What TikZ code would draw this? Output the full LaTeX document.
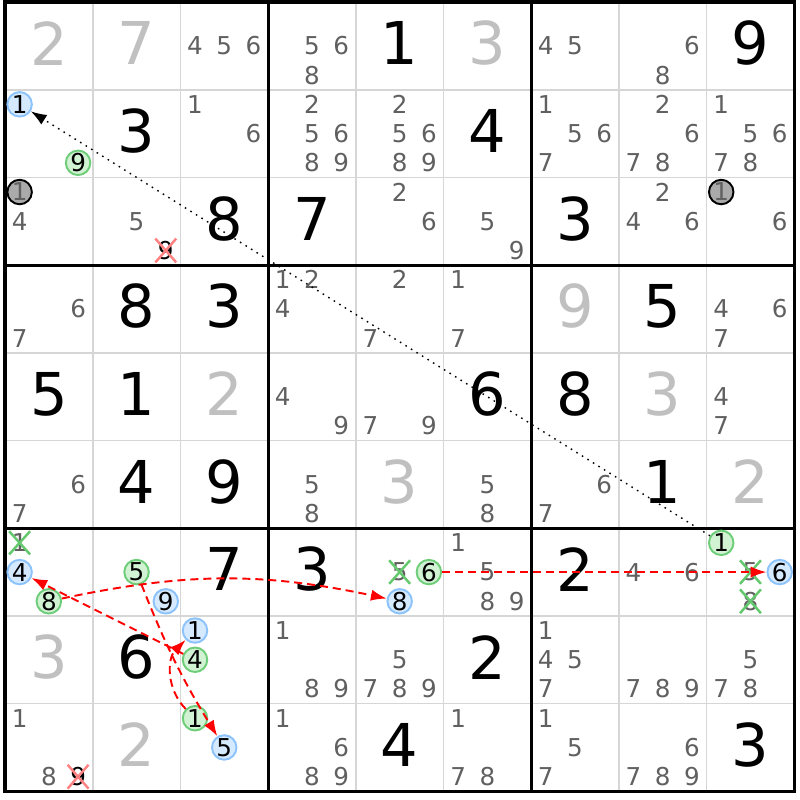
\documentclass[tikz,border=0pt]{standalone}
\usepackage{fontspec}
\setmainfont{DejaVu Sans}
\usetikzlibrary{arrows.meta,shapes.misc}

\definecolor{candgray}{RGB}{96,96,96}
\definecolor{givengray}{RGB}{192,192,192}
\definecolor{gridgray}{RGB}{214,214,214}
\definecolor{onblue}{RGB}{214,234,255}
\definecolor{onblueline}{RGB}{140,195,250}
\definecolor{offgreen}{RGB}{210,242,212}
\definecolor{offgreenline}{RGB}{110,205,120}
\definecolor{basegray}{RGB}{170,170,170}
\definecolor{crossred}{RGB}{255,130,130}
\definecolor{crossgreen}{RGB}{100,200,110}

\tikzset{
  placed/.style={font=\fontsize{16.8}{18}\selectfont,text=black,inner sep=0pt},
  given/.style={placed,text=givengray},
  cand/.style={font=\fontsize{7}{8}\selectfont,text=candgray,inner sep=0pt},
  candon/.style={cand,text=black,circle,draw=onblueline,fill=onblue,line width=0.55pt,minimum size=0.245cm},
  candoff/.style={candon,draw=offgreenline,fill=offgreen},
  candbase/.style={candon,text=candgray,draw=black,fill=basegray},
  candgone/.style={cand,cross out,draw=crossgreen,line width=0.7pt,inner sep=0.4pt},
  candkill/.style={candgone,text=black,draw=crossred},
  thinline/.style={draw=gridgray,line width=0.5pt},
  boxline/.style={draw=black,line width=0.9pt},
  chainarrow/.style={draw=red,line width=0.55pt,dash pattern=on 2.3pt off 1.4pt,-{Latex[length=4.5pt,width=3.2pt]}},
  linkarrow/.style={draw=black,line width=0.4pt,dash pattern=on 0.45pt off 1.4pt,-{Latex[length=4.5pt,width=3.2pt]}}
}

\begin{document}
\begin{tikzpicture}[x=0.877cm,y=0.877cm]

\useasboundingbox (-0.057,-0.099) rectangle (9.065,9.023);

% grid
\foreach \i in {1,2,4,5,7,8} {
  \path[thinline] (\i,0) -- (\i,9);
  \path[thinline] (0,\i) -- (9,\i);
}
\foreach \i in {3,6} {
  \path[boxline] (\i,0) -- (\i,9);
  \path[boxline] (0,\i) -- (9,\i);
}
\path[boxline] (0,0) rectangle (9,9);

% solved cells
\foreach \row/\col/\dig in {1/5/1,1/9/9,2/2/3,2/6/4,3/3/8,3/4/7,3/7/3,4/2/8,4/3/3,4/8/5,
  5/1/5,5/2/1,5/6/6,5/7/8,6/2/4,6/3/9,6/8/1,7/3/7,7/4/3,7/7/2,8/2/6,8/6/2,9/5/4,9/9/3}
  \node[placed] (r\row c\col) at ({\col-0.5},{9.53-\row}) {\dig};

% givens
\foreach \row/\col/\dig in {1/1/2,1/2/7,1/6/3,4/7/9,5/3/2,5/8/3,6/5/3,6/9/2,8/1/3,9/2/2}
  \node[given] (r\row c\col) at ({\col-0.5},{9.53-\row}) {\dig};

% candidates
\foreach \row/\col/\dig in {1/3/4,1/3/5,1/3/6,1/4/5,1/4/6,1/4/8,1/7/4,1/7/5,1/8/6,1/8/8,
  2/3/1,2/3/6,2/4/2,2/4/5,2/4/6,2/4/8,2/4/9,2/5/2,2/5/5,2/5/6,2/5/8,2/5/9,
  2/7/1,2/7/5,2/7/6,2/7/7,2/8/2,2/8/6,2/8/7,2/8/8,2/9/1,2/9/5,2/9/6,2/9/7,2/9/8,
  3/1/4,3/2/5,3/5/2,3/5/6,3/6/5,3/6/9,3/8/2,3/8/4,3/8/6,3/9/6,
  4/1/6,4/1/7,4/4/1,4/4/2,4/4/4,4/5/2,4/5/7,4/6/1,4/6/7,4/9/4,4/9/6,4/9/7,
  5/4/4,5/4/9,5/5/7,5/5/9,5/9/4,5/9/7,
  6/1/6,6/1/7,6/4/5,6/4/8,6/6/5,6/6/8,6/7/6,6/7/7,
  7/6/1,7/6/5,7/6/8,7/6/9,7/8/4,7/8/6,
  8/4/1,8/4/8,8/4/9,8/5/5,8/5/7,8/5/8,8/5/9,8/7/1,8/7/4,8/7/5,8/7/7,8/8/7,8/8/8,8/8/9,8/9/5,8/9/7,8/9/8,
  9/1/1,9/1/8,9/4/1,9/4/6,9/4/8,9/4/9,9/6/1,9/6/7,9/6/8,9/7/1,9/7/5,9/7/7,9/8/6,9/8/7,9/8/8,9/8/9}
  \node[cand] (r\row c\col d\dig) at ({\col-1+(mod(\dig-1,3)+0.5)/3},{10-\row-(int((\dig-1)/3)+0.5)/3}) {\dig};

% chain candidates
\foreach \row/\col/\dig in {2/1/1,7/1/4,7/2/9,8/3/1,9/3/5,7/5/8,7/9/6}
  \node[candon] (r\row c\col d\dig) at ({\col-1+(mod(\dig-1,3)+0.5)/3},{10-\row-(int((\dig-1)/3)+0.5)/3}) {\dig};
\foreach \row/\col/\dig in {2/1/9,7/1/8,7/2/5,8/3/4,9/3/1,7/5/6,7/9/1}
  \node[candoff] (r\row c\col d\dig) at ({\col-1+(mod(\dig-1,3)+0.5)/3},{10-\row-(int((\dig-1)/3)+0.5)/3}) {\dig};
\foreach \row/\col/\dig in {3/1/1,3/9/1}
  \node[candbase] (r\row c\col d\dig) at ({\col-1+(mod(\dig-1,3)+0.5)/3},{10-\row-(int((\dig-1)/3)+0.5)/3}) {\dig};

% eliminations
\foreach \row/\col/\dig in {7/1/1,7/5/5,7/9/5,7/9/8}
  \node[candgone] (r\row c\col d\dig) at ({\col-1+(mod(\dig-1,3)+0.5)/3},{10-\row-(int((\dig-1)/3)+0.5)/3}) {\dig};
\foreach \row/\col/\dig in {3/2/9,9/1/9}
  \node[candkill] (r\row c\col d\dig) at ({\col-1+(mod(\dig-1,3)+0.5)/3},{10-\row-(int((\dig-1)/3)+0.5)/3}) {\dig};

% links
\draw[chainarrow] (r8c3d4) -- (r7c1d4);
\draw[chainarrow] (r7c1d8) to[bend left=12] (r7c5d8);
\draw[chainarrow] (r7c2d5) to[bend right=5] (r9c3d5);
\draw[chainarrow] (r9c3d1) to[bend left=45] (r8c3d1);
\draw[chainarrow] (r7c5d6) -- (r7c9d6);
\draw[linkarrow] (r7c9d1) -- (r2c1d1);

\end{tikzpicture}
\end{document}
